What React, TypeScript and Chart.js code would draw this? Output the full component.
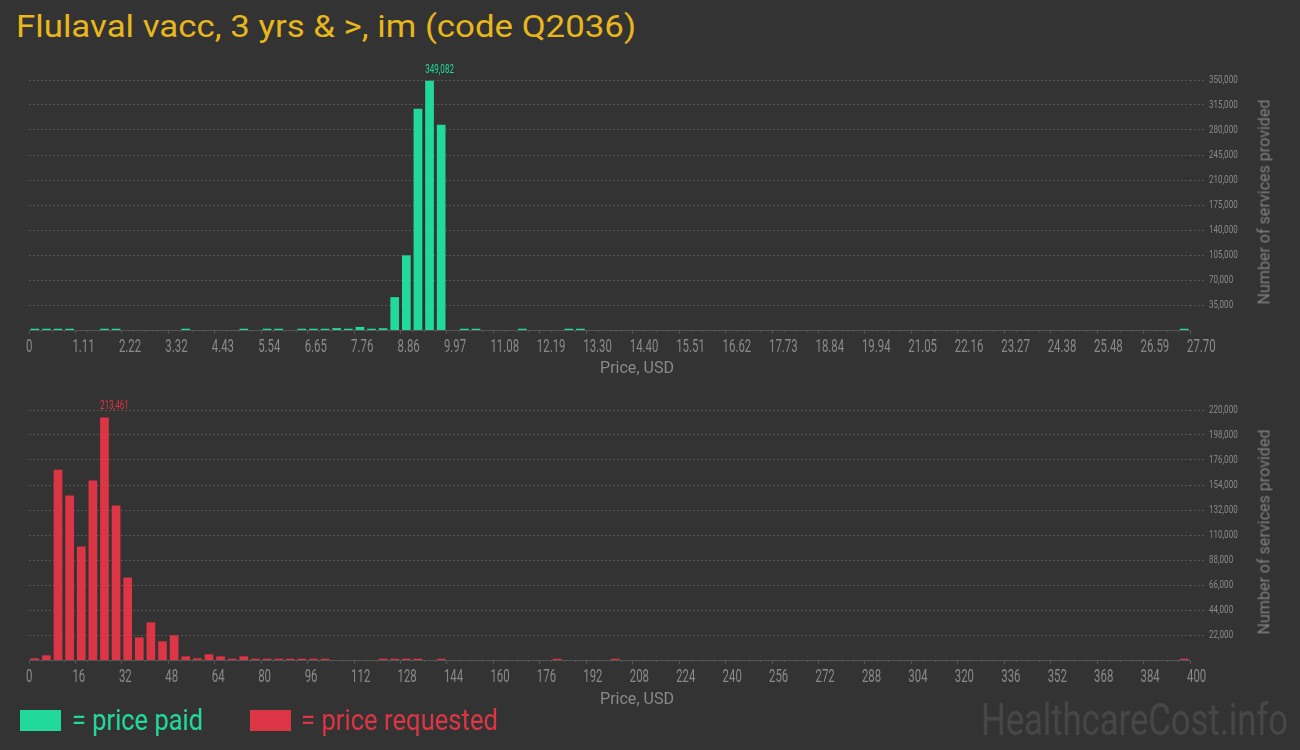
import React, { useEffect, useRef } from 'react';
import { Chart, registerables } from 'chart.js';

Chart.register(...registerables);

// ---------------- DATA ----------------
const BIN_COUNT = 100;
const paidBinWidth = 0.277; // USD per bin (top chart)
const requestedBinWidth = 4; // USD per bin (bottom chart)

// Number of services per price bin — price paid
const paidCounts = [
  1800, 1800, 1800, 1800, 0, 0, 1800, 1800, 0, 0,
  0, 0, 0, 1800, 0, 0, 0, 0, 1800, 0,
  1800, 1800, 0, 1800, 1800, 1800, 2600, 1800, 4300, 1800,
  2500, 46000, 104500, 309800, 349082, 287500, 0, 1800, 1800, 0,
  0, 0, 1800, 0, 0, 0, 1800, 1800, 0, 0,
  0, 0, 0, 0, 0, 0, 0, 0, 0, 0,
  0, 0, 0, 0, 0, 0, 0, 0, 0, 0,
  0, 0, 0, 0, 0, 0, 0, 0, 0, 0,
  0, 0, 0, 0, 0, 0, 0, 0, 0, 0,
  0, 0, 0, 0, 0, 0, 0, 0, 0, 1800,
];

// Number of services per price bin — price requested
const requestedCounts = [
  1500, 4100, 167500, 144700, 99900, 157900, 213461, 135900, 72600, 19900,
  33100, 16400, 21700, 3200, 1500, 5000, 3200, 1100, 3200, 1100,
  1100, 1100, 1100, 1100, 1100, 1100, 0, 0, 0, 0,
  1100, 1100, 1100, 1100, 0, 1100, 0, 0, 0, 0,
  0, 0, 0, 0, 0, 1100, 0, 0, 0, 0,
  1100, 0, 0, 0, 0, 0, 0, 0, 0, 0,
  0, 0, 0, 0, 0, 0, 0, 0, 0, 0,
  0, 0, 0, 0, 0, 0, 0, 0, 0, 0,
  0, 0, 0, 0, 0, 0, 0, 0, 0, 0,
  0, 0, 0, 0, 0, 0, 0, 0, 0, 1100,
];

const paidTickLabels = [
  '0', '1.11', '2.22', '3.32', '4.43', '5.54', '6.65', '7.76', '8.86', '9.97',
  '11.08', '12.19', '13.30', '14.40', '15.51', '16.62', '17.73', '18.84', '19.94',
  '21.05', '22.16', '23.27', '24.38', '25.48', '26.59', '27.70',
];
const requestedTickLabels = [
  '0', '16', '32', '48', '64', '80', '96', '112', '128', '144', '160', '176', '192',
  '208', '224', '240', '256', '272', '288', '304', '320', '336', '352', '368', '384', '400',
];

const paidYTicks = [35000, 70000, 105000, 140000, 175000, 210000, 245000, 280000, 315000, 350000];
const requestedYTicks = [22000, 44000, 66000, 88000, 110000, 132000, 154000, 176000, 198000, 220000];

const TITLE = 'Flulaval vacc, 3 yrs & >, im (code Q2036)';
const X_TITLE = 'Price, USD';
const Y_TITLE = 'Number of services provided';
const LEGEND_PAID = '= price paid';
const LEGEND_REQUESTED = '= price requested';
const WATERMARK = 'HealthcareCost.info';

// ---------------- STYLE ----------------
const BG = '#333333';
const GREEN = '#20d99b';
const RED = '#dc3545';
const GOLD = '#e8b71c';
const AXIS_GRAY = '#555555';
const TEXT_GRAY = '#8a8a8a';
const TICK_FONT = 'Roboto';

// ---------------- TEXT HELPERS ----------------
let measureCtx: CanvasRenderingContext2D | null = null;
function measure(text: string, font: string) {
  if (!measureCtx) measureCtx = document.createElement('canvas').getContext('2d');
  const ctx = measureCtx!;
  ctx.font = font;
  const m = ctx.measureText(text);
  return { w: m.width, a: m.fontBoundingBoxAscent, d: m.fontBoundingBoxDescent };
}

function FitText(props: {
  text: string; family: string; size: number; color: string;
  x: number; baseline: number; width: number; center?: boolean;
}) {
  const { text, family, size, color, x, baseline, width, center } = props;
  const m = measure(text, `400 ${size}px ${family}`);
  const s = width / m.w;
  const left = center ? x - width / 2 : x;
  return (
    <div
      style={{
        position: 'absolute', left, top: baseline - m.a,
        fontFamily: family, fontSize: size, fontWeight: 400,
        lineHeight: `${m.a + m.d}px`, color, whiteSpace: 'nowrap',
        transform: `scaleX(${s})`, transformOrigin: '0 0',
      }}
    >
      {text}
    </div>
  );
}

function RotatedText(props: {
  text: string; family: string; size: number; color: string;
  cx: number; cy: number; length: number;
}) {
  const { text, family, size, color, cx, cy, length } = props;
  const m = measure(text, `400 ${size}px ${family}`);
  const s = length / m.w;
  return (
    <div
      style={{
        position: 'absolute', left: cx, top: cy,
        fontFamily: family, fontSize: size, fontWeight: 400,
        lineHeight: `${m.a + m.d}px`, color, whiteSpace: 'nowrap',
        transform: `translate(-50%, -50%) rotate(-90deg) scaleX(${s})`,
      }}
    >
      {text}
    </div>
  );
}

// ---------------- CHART ----------------
// Draw a scale's tick labels horizontally condensed (the reference uses a condensed face)
function condenseLabels(factor: number) {
  return (scale: any) => {
    if (scale.__condensed) return;
    scale.__condensed = true;
    const orig = scale.drawLabels;
    scale.drawLabels = function (area: any) {
      const ctx = this.ctx;
      const fill = CanvasRenderingContext2D.prototype.fillText;
      ctx.fillText = function (text: string, x: number, y: number, maxW?: number) {
        ctx.save();
        ctx.translate(x, y);
        ctx.scale(factor, 1);
        if (maxW === undefined || maxW === null) fill.call(ctx, text, 0, 0);
        else fill.call(ctx, text, 0, 0, maxW / factor);
        ctx.restore();
      };
      try { orig.call(this, area); } finally { delete ctx.fillText; }
    };
  };
}

function makeMinorTicks(binWidth: number) {
  return {
    id: 'minorTicks',
    afterDraw(chart: any) {
      const s = chart.scales.x;
      const ctx = chart.ctx;
      ctx.save();
      ctx.strokeStyle = AXIS_GRAY;
      ctx.lineWidth = 1;
      ctx.beginPath();
      for (let i = 1; i < BIN_COUNT; i++) {
        if (i % 4 === 0) continue;
        const px = Math.round(s.getPixelForValue(i * binWidth)) + 0.5;
        ctx.moveTo(px, s.top);
        ctx.lineTo(px, s.top + 2);
      }
      ctx.stroke();
      ctx.restore();
    },
  };
}

function makePeakLabel(color: string) {
  return {
    id: 'peakLabel',
    afterDatasetsDraw(chart: any) {
      const values: number[] = chart.data.datasets[0].data.map((p: any) => p.y);
      let maxI = 0;
      values.forEach((v, i) => { if (v > values[maxI]) maxI = i; });
      const el = chart.getDatasetMeta(0).data[maxI];
      const ctx = chart.ctx;
      ctx.save();
      ctx.font = `13px ${TICK_FONT}`;
      ctx.fillStyle = color;
      ctx.textAlign = 'left';
      ctx.textBaseline = 'alphabetic';
      ctx.translate(el.x - el.width / 2, el.y - 8);
      ctx.scale(0.62, 1);
      ctx.fillText(values[maxI].toLocaleString('en-US'), 0, 0);
      ctx.restore();
    },
  };
}

function BinChart(props: {
  counts: number[]; binWidth: number; tickLabels: string[]; yTicks: number[];
  yMax: number; color: string; top: number;
}) {
  const { counts, binWidth, tickLabels, yTicks, yMax, color, top } = props;
  const ref = useRef<HTMLCanvasElement>(null);

  useEffect(() => {
    const canvas = ref.current!;
    const chart = new Chart(canvas, {
      type: 'bar',
      data: {
        datasets: [{
          data: counts.map((v, i) => ({ x: (i + 0.5) * binWidth, y: v })),
          backgroundColor: color,
          borderWidth: 0,
          barPercentage: 0.75,
          categoryPercentage: 1,
        }],
      },
      options: {
        animation: false,
        responsive: false,
        devicePixelRatio: 1,
        layout: { padding: { left: 29, top: 30, right: 0, bottom: 0 } },
        plugins: { legend: { display: false }, tooltip: { enabled: false }, title: { display: false } },
        scales: {
          x: {
            type: 'linear',
            min: 0,
            max: BIN_COUNT * binWidth,
            offset: false,
            afterBuildTicks: (s: any) => {
              s.ticks = tickLabels.map((_, k) => ({ value: k * 4 * binWidth }));
            },
            afterFit: (s: any) => { s.height = 30; },
            afterUpdate: condenseLabels(0.6),
            grid: {
              display: true, offset: false, drawOnChartArea: false, drawTicks: true,
              tickLength: 4, color: AXIS_GRAY, tickColor: AXIS_GRAY,
            },
            border: { display: true, color: AXIS_GRAY },
            ticks: {
              autoSkip: false, maxRotation: 0, minRotation: 0, padding: 2,
              align: 'start', labelOffset: -3,
              color: TEXT_GRAY, font: { family: TICK_FONT, size: 19 },
              callback: (_v: any, i: number) => tickLabels[i] ?? '',
            },
          },
          y: {
            type: 'linear',
            position: 'right',
            min: 0,
            max: yMax,
            afterBuildTicks: (s: any) => {
              s.ticks = yTicks.map((v) => ({ value: v }));
            },
            afterFit: (s: any) => { s.width = 110; },
            afterUpdate: condenseLabels(0.73),
            grid: {
              color: AXIS_GRAY, tickColor: AXIS_GRAY, tickLength: 16,
              tickBorderDash: [2, 2], drawTicks: true,
            },
            border: { display: false, dash: [2, 2] },
            ticks: {
              padding: 3, color: TEXT_GRAY, font: { family: TICK_FONT, size: 11 },
              callback: (v: any) => Number(v).toLocaleString('en-US'),
            },
          },
        },
      } as any,
      plugins: [makeMinorTicks(binWidth), makePeakLabel(color)],
    });
    return () => chart.destroy();
  }, []);

  return (
    <canvas
      ref={ref}
      width={1300}
      height={310}
      style={{ position: 'absolute', left: 0, top, width: 1300, height: 310 }}
    />
  );
}

export default function App() {
  return (
    <div
      style={{
        position: 'fixed', left: 0, top: 0, width: 1300, height: 750,
        background: BG, overflow: 'hidden',
      }}
    >
      <FitText text={TITLE} family="Roboto" size={31} color={GOLD} x={16} baseline={37} width={620} />

      <BinChart counts={paidCounts} binWidth={paidBinWidth} tickLabels={paidTickLabels}
        yTicks={paidYTicks} yMax={350000} color={GREEN} top={50} />
      <FitText text={X_TITLE} family="Roboto" size={16} color={TEXT_GRAY} x={637} baseline={373} width={74} center />
      <RotatedText text={Y_TITLE} family="Roboto" size={16} color="#7f7f7f" cx={1264} cy={202} length={205} />

      <BinChart counts={requestedCounts} binWidth={requestedBinWidth} tickLabels={requestedTickLabels}
        yTicks={requestedYTicks} yMax={220000} color={RED} top={380} />
      <FitText text={X_TITLE} family="Roboto" size={16} color={TEXT_GRAY} x={637} baseline={704} width={74} center />
      <RotatedText text={Y_TITLE} family="Roboto" size={16} color="#7f7f7f" cx={1264} cy={532} length={205} />

      <div style={{ position: 'absolute', left: 20, top: 710, width: 41, height: 21, background: GREEN }} />
      <FitText text={LEGEND_PAID} family="Roboto" size={29} color={GREEN} x={72} baseline={730} width={131} />
      <div style={{ position: 'absolute', left: 250, top: 710, width: 41, height: 21, background: RED }} />
      <FitText text={LEGEND_REQUESTED} family="Roboto" size={29} color={RED} x={301} baseline={730} width={197} />

      <FitText text={WATERMARK} family="Roboto" size={45} color="#474747" x={981} baseline={735} width={307} />
    </div>
  );
}
